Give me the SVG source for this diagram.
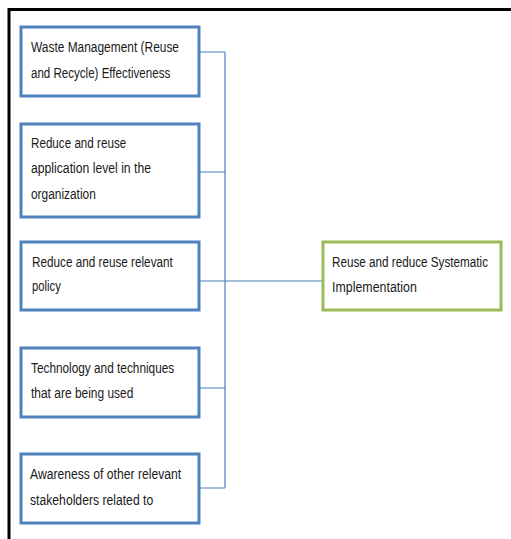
<svg xmlns="http://www.w3.org/2000/svg" width="511" height="539" viewBox="0 0 511 539">
<style>
.box{fill:#fff;stroke:#4F81BD;stroke-width:3}
.gbox{fill:#fff;stroke:#9BBB59;stroke-width:3}
.t{font-family:"Liberation Sans",Arial,sans-serif;font-size:15px;fill:#1a1a1a}
.c{fill:none;stroke:#4A7EBB;stroke-width:1.2}
</style>
<rect width="511" height="539" fill="#fff"/>
<path d="M9 539 V9.5 H511" fill="none" stroke="#000" stroke-width="3"/>
<g id="connectors">
<path class="c" d="M200 52 H225 M200 172 H225 M200 281 H225 M200 388 H225 M200 488 H225 M225 52 V488 M225 281 H322"/>
</g>
<g id="n1">
<rect class="box" x="21" y="27" width="178" height="69"/>
<text class="t" transform="translate(31 52) scale(0.8 1)" textLength="185" lengthAdjust="spacingAndGlyphs">Waste Management (Reuse</text>
<text class="t" transform="translate(31 78) scale(0.8 1)" textLength="174" lengthAdjust="spacingAndGlyphs">and Recycle) Effectiveness</text>
</g>
<g id="n2">
<rect class="box" x="21" y="124" width="178" height="93"/>
<text class="t" transform="translate(31 148) scale(0.8 1)" textLength="119" lengthAdjust="spacingAndGlyphs">Reduce and reuse</text>
<text class="t" transform="translate(31 173) scale(0.8 1)" textLength="150" lengthAdjust="spacingAndGlyphs">application  level in the</text>
<text class="t" transform="translate(31 199) scale(0.8 1)" textLength="81" lengthAdjust="spacingAndGlyphs">organization</text>
</g>
<g id="n3">
<rect class="box" x="21" y="242" width="178" height="68"/>
<text class="t" transform="translate(32 267) scale(0.8 1)" textLength="176" lengthAdjust="spacingAndGlyphs">Reduce and reuse relevant</text>
<text class="t" transform="translate(32 291) scale(0.8 1)" textLength="36" lengthAdjust="spacingAndGlyphs">policy</text>
</g>
<g id="n4">
<rect class="box" x="21" y="348" width="178" height="69"/>
<text class="t" transform="translate(31 373) scale(0.8 1)" textLength="179" lengthAdjust="spacingAndGlyphs">Technology  and techniques</text>
<text class="t" transform="translate(31 398) scale(0.8 1)" textLength="128" lengthAdjust="spacingAndGlyphs">that are being  used</text>
</g>
<g id="n5">
<rect class="box" x="21" y="454" width="178" height="69"/>
<text class="t" transform="translate(30 479) scale(0.8 1)" textLength="189" lengthAdjust="spacingAndGlyphs">Awareness of other relevant</text>
<text class="t" transform="translate(30 505) scale(0.8 1)" textLength="154" lengthAdjust="spacingAndGlyphs">stakeholders related to</text>
</g>
<g id="target">
<rect class="gbox" x="323" y="242" width="178" height="68"/>
<text class="t" transform="translate(332 267) scale(0.8 1)" textLength="195" lengthAdjust="spacingAndGlyphs">Reuse and reduce Systematic</text>
<text class="t" transform="translate(332 292) scale(0.8 1)" textLength="106" lengthAdjust="spacingAndGlyphs">Implementation</text>
</g>
</svg>
